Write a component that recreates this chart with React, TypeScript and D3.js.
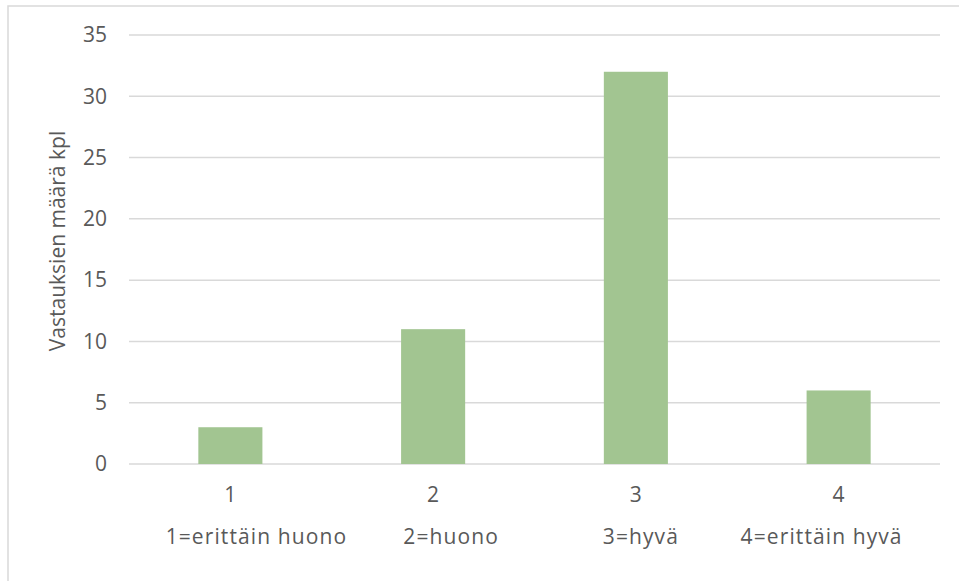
import React from "react";
import * as d3 from "d3";

const categories = ["1", "2", "3", "4"];
const descriptions = ["1=erittäin huono", "2=huono", "3=hyvä", "4=erittäin hyvä"];
const values = [3, 11, 32, 6];
const yTicks = [0, 5, 10, 15, 20, 25, 30, 35];
const yTitle = "Vastauksien määrä kpl";

const W = 959;
const H = 581;
const FONT = "'Open Sans', sans-serif";
const TEXT = "#595959";
const GRID = "#D9D9D9";
const BAR = "#A2C591";
// horizontal nudges of the description row as in the original layout
const descShift = [26, 18, 5, -17];

export default function App() {
  const left = 129, right = 940, top = 35, bottom = 464;
  const x = d3.scaleBand<string>().domain(categories).range([left, right]).padding(0);
  const y = d3.scaleLinear().domain([0, 35]).range([bottom, top]);
  const bw = x.bandwidth() * 0.316;
  return (
    <svg width={W} height={H} style={{ position: "absolute", left: 0, top: 0 }}>
      <rect x={0} y={0} width={W} height={H} fill="#fff" />
      <rect x={8} y={6} width={W + 20} height={H + 20} fill="none" stroke={GRID} strokeWidth={1.5} />
      {yTicks.map((t) => (
        <g key={t}>
          <line x1={left} x2={right} y1={y(t)} y2={y(t)} stroke={GRID} strokeWidth={1.5} />
          <text x={107} y={y(t)} dy="0.35em" textAnchor="end" fontFamily={FONT} fontSize={21} fill={TEXT}>
            {t}
          </text>
        </g>
      ))}
      {categories.map((c, i) => {
        const cx = (x(c) as number) + x.bandwidth() / 2;
        return (
          <g key={c}>
            <rect x={cx - bw / 2} y={y(values[i])} width={bw} height={y(0) - y(values[i])} fill={BAR} />
            <text x={cx} y={495} dy="0.35em" textAnchor="middle" fontFamily={FONT} fontSize={21} fill={TEXT}>
              {c}
            </text>
            <text x={cx + descShift[i]} y={537} dy="0.35em" textAnchor="middle" fontFamily={FONT} fontSize={21} letterSpacing={1.1} fill={TEXT}>
              {descriptions[i]}
            </text>
          </g>
        );
      })}
      <text
        transform={`translate(58, 241) rotate(-90)`}
        dy="0.35em"
        textAnchor="middle"
        fontFamily={FONT}
        fontSize={21}
        fill={TEXT}
      >
        {yTitle}
      </text>
    </svg>
  );
}
